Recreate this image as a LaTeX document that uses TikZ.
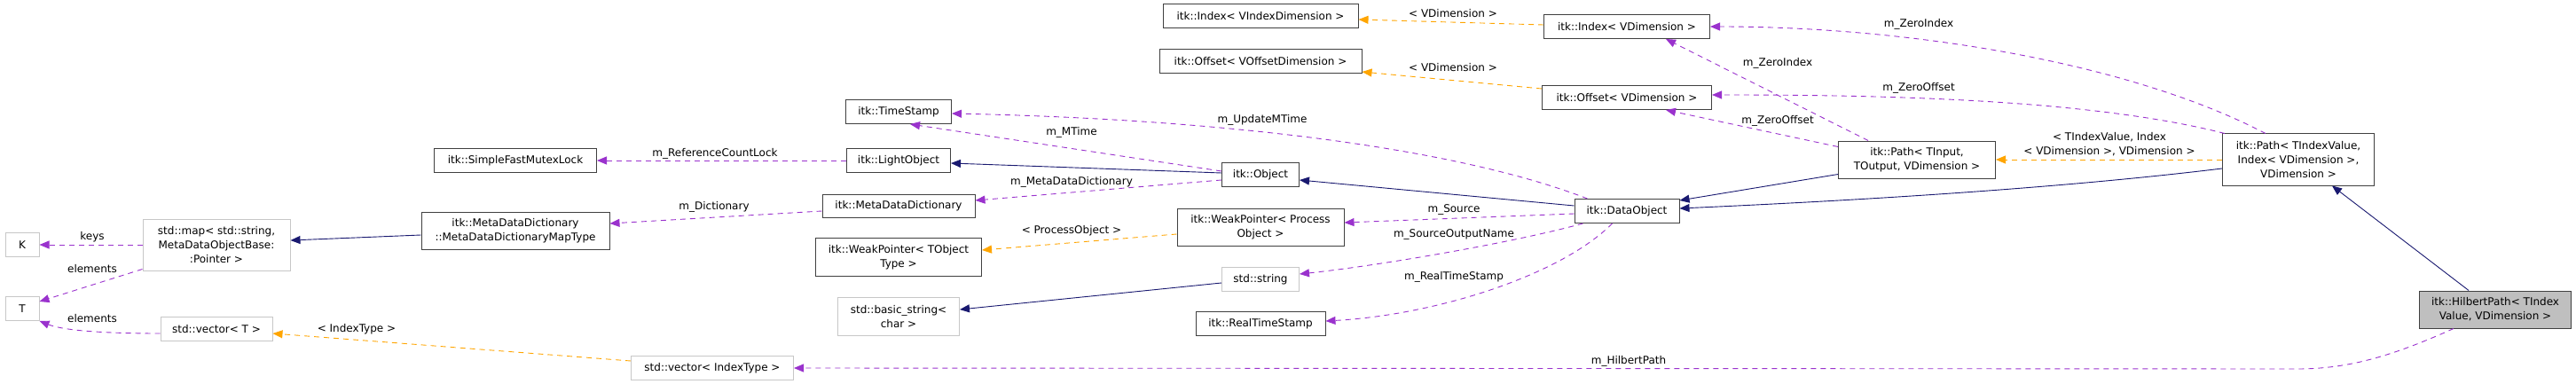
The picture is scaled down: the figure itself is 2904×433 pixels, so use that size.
\documentclass[tikz,border=0pt]{standalone}
\usepackage{fontspec}
\setmainfont{DejaVu Sans}
\usetikzlibrary{arrows.meta}
\definecolor{nav}{HTML}{191970}
\definecolor{pur}{HTML}{9A32CD}
\definecolor{org}{HTML}{FFA500}
\begin{document}
\begin{tikzpicture}[x=1pt,y=-1pt,
  every node/.style={font=\fontsize{12}{16}\selectfont, inner sep=0pt},
  box/.style={draw=black!75, line width=1pt, fill=white, align=center, minimum height=27pt},
  gbox/.style={box, draw=black!22},
  lbl/.style={align=center},
  tip/.style={-{Triangle[length=11pt,width=9pt]}},
  inh/.style={tip, draw=nav, line width=0.9pt},
  mem/.style={tip, draw=pur, line width=0.9pt, dash pattern=on 6pt off 5pt},
  tmp/.style={tip, draw=org, line width=0.9pt, dash pattern=on 6pt off 5pt}]
\useasboundingbox (0,0) rectangle (2904,433);
% nodes
\node[gbox, minimum width=38pt] (K) at (25,276) {K};
\node[gbox, minimum width=38pt] (T) at (25,348) {T};
\node[gbox, minimum width=166pt, minimum height=58pt] (map) at (244,276) {std::map< std::string,\\ MetaDataObjectBase:\\:Pointer >};
\node[gbox, minimum width=126pt] (vecT) at (244,371) {std::vector< T >};
\node[box, minimum width=183pt] (sfml) at (581,181) {itk::SimpleFastMutexLock};
\node[box, minimum width=212pt, minimum height=42pt] (mdmt) at (581,260) {itk::MetaDataDictionary\\::MetaDataDictionaryMapType};
\node[gbox, minimum width=183pt] (vecI) at (803,415) {std::vector< IndexType >};
\node[box, minimum width=119pt] (ts) at (1013,126) {itk::TimeStamp};
\node[box, minimum width=117pt] (lo) at (1013,181) {itk::LightObject};
\node[box, minimum width=172pt, minimum height=26pt] (mdd) at (1013,232) {itk::MetaDataDictionary};
\node[box, minimum width=187pt, minimum height=43pt] (wpt) at (1013,290) {itk::WeakPointer< TObject\\Type >};
\node[gbox, minimum width=137pt, minimum height=43pt] (bs) at (1013,357) {std::basic\_string<\\char >};
\node[box, minimum width=220pt] (ivi) at (1421,18) {itk::Index< VIndexDimension >};
\node[box, minimum width=228pt] (ovo) at (1421,69) {itk::Offset< VOffsetDimension >};
\node[box, minimum width=87pt] (obj) at (1421,197) {itk::Object};
\node[box, minimum width=188pt, minimum height=42pt] (wpp) at (1421,256) {itk::WeakPointer< Process\\Object >};
\node[gbox, minimum width=87pt] (str) at (1421,315) {std::string};
\node[box, minimum width=146pt] (rts) at (1421,365) {itk::RealTimeStamp};
\node[box, minimum width=187pt] (ivd) at (1834,30) {itk::Index< VDimension >};
\node[box, minimum width=191pt] (ovd) at (1834,110) {itk::Offset< VDimension >};
\node[box, minimum width=118pt] (dobj) at (1834,238) {itk::DataObject};
\node[box, minimum width=177pt, minimum height=42pt] (pin) at (2161,180) {itk::Path< TInput,\\ TOutput, VDimension >};
\node[box, minimum width=171pt, minimum height=58pt] (piv) at (2591,180) {itk::Path< TIndexValue,\\ Index< VDimension >,\\VDimension >};
\node[box, fill=black!25, minimum width=171pt, minimum height=42pt] (hp) at (2813,349) {itk::HilbertPath< TIndex\\Value, VDimension >};
% labels
\node[lbl] (l1) at (104,267) {keys};
\node[lbl] (l2) at (104,303) {elements};
\node[lbl] (l3) at (104,359) {elements};
\node[lbl] (l4) at (402,371) {< IndexType >};
\node[lbl] (l5) at (806,173) {m\_ReferenceCountLock};
\node[lbl] (l6) at (805,233) {m\_Dictionary};
\node[lbl] (l7) at (1208,149) {m\_MTime};
\node[lbl] (l8) at (1423,135) {m\_UpdateMTime};
\node[lbl] (l9) at (1208,205) {m\_MetaDataDictionary};
\node[lbl] (l10) at (1208,260) {< ProcessObject >};
\node[lbl] (l11) at (1638,15) {< VDimension >};
\node[lbl] (l12) at (1638,76) {< VDimension >};
\node[lbl] (l13) at (1639,236) {m\_Source};
\node[lbl] (l14) at (1639,264) {m\_SourceOutputName};
\node[lbl] (l15) at (1639,312) {m\_RealTimeStamp};
\node[lbl] (l16) at (1836,407) {m\_HilbertPath};
\node[lbl] (l17) at (2004,71) {m\_ZeroIndex};
\node[lbl] (l18) at (2004,136) {m\_ZeroOffset};
\node[lbl] (l19) at (2163,27) {m\_ZeroIndex};
\node[lbl] (l20) at (2163,99) {m\_ZeroOffset};
\node[lbl] (l21) at (2378,163) {< TIndexValue, Index\\< VDimension >, VDimension >};
% edges
\draw[mem] (map.west) -- (K.east);
\draw[mem] ([yshift=2pt]map.south west) -- ([yshift=8pt]T.east);
\draw[mem] ([yshift=-5pt]vecT.west) .. controls (110,376) and (70,372) .. (T.south east);
\draw[inh] ([yshift=-5pt]mdmt.west) -- ([yshift=5pt]map.east);
\draw[tmp] ([yshift=8pt]vecI.west) -- ([yshift=-5pt]vecT.east);
\draw[mem] (lo.west) -- (sfml.east);
\draw[mem] ([yshift=-6pt]mdd.west) -- ([yshift=8pt]mdmt.east);
\draw[mem] ([yshift=4pt]obj.west) -- ([xshift=-47pt]ts.south east);
\draw[inh] ([yshift=2pt]obj.west) -- ([yshift=-3pt]lo.east);
\draw[mem] ([yshift=-6pt]obj.west) -- ([yshift=6pt]mdd.east);
\draw[tmp] ([yshift=-8pt]wpp.west) -- ([yshift=8pt]wpt.east);
\draw[inh] ([yshift=-4pt]str.west) -- ([yshift=8pt]bs.east);
\draw[mem] ([xshift=15pt]dobj.north west) .. controls (1650,170) and (1400,135) .. ([yshift=-2pt]ts.east);
\draw[inh] ([yshift=6pt]dobj.west) -- ([yshift=-6pt]obj.east);
\draw[mem] ([yshift=-3pt]dobj.west) -- ([yshift=5pt]wpp.east);
\draw[mem] ([xshift=10pt]dobj.south west) .. controls (1700,275) and (1550,300) .. ([yshift=6pt]str.east);
\draw[mem] ([xshift=43pt]dobj.south west) .. controls (1760,310) and (1620,355) .. ([yshift=3pt]rts.east);
\draw[tmp] ([yshift=2pt]ivd.west) -- ([yshift=-4pt]ivi.east);
\draw[tmp] ([yshift=10pt]ovd.west) -- ([yshift=-12pt]ovo.east);
\draw[mem] ([xshift=34pt]pin.north west) -- ([xshift=-50pt]ivd.south east);
\draw[mem] ([yshift=-7pt]pin.north west) -- ([xshift=-52pt]ovd.south east);
\draw[inh] ([yshift=5pt]pin.south west) -- ([yshift=12pt]dobj.east);
\draw[tmp] (piv.west) -- (pin.east);
\draw[inh] ([yshift=-10pt]piv.west) .. controls (2300,215) and (2050,228) .. ([yshift=3pt]dobj.east);
\draw[mem] ([xshift=49pt]piv.north west) .. controls (2400,70) and (2150,30) .. (ivd.east);
\draw[mem] ([xshift=3pt]piv.north west) .. controls (2350,110) and (2100,107) .. ([yshift=3pt]ovd.east);
\draw[inh] ([xshift=-30pt]hp.north) -- ([xshift=38pt]piv.south);
\draw[mem] ([xshift=-47pt]hp.south) .. controls (2700,400) and (2650,416) .. (2590,416) -- (vecI.east);
\end{tikzpicture}
\end{document}
